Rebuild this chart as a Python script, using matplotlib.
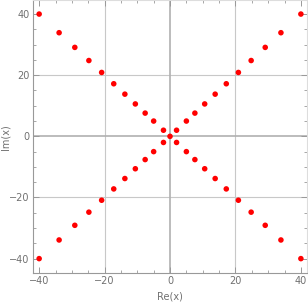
import numpy as np
import matplotlib
matplotlib.use("Agg")
import matplotlib.pyplot as plt
from matplotlib.ticker import MultipleLocator

# magnitudes (points lie on the two diagonals)
mags = [2.0, 5.0, 7.6, 10.6, 13.8, 17.2, 20.9, 24.8, 29.1, 33.9, 40.0]
signs_re = [1, 1, -1, -1]
signs_im = [1, -1, 1, -1]

re_vals = [0.0]
im_vals = [0.0]
for sr, si in zip(signs_re, signs_im):
    for m in mags:
        re_vals.append(sr * m)
        im_vals.append(si * m)

grid_col = '#c8c8c8'
axis_col = '#999999'
text_col = '#707070'

fig = plt.figure(figsize=(3.08, 3.04), dpi=100)
ax = fig.add_axes([0.108, 0.102, 0.888, 0.897])

ax.set_xlim(-41.8, 41.8)
ax.set_ylim(-44.7, 44.5)

for v in (-20, 20):
    ax.axvline(v, color=grid_col, lw=0.8, zorder=1)
    ax.axhline(v, color=grid_col, lw=0.8, zorder=1)
ax.axvline(0, color='#b0b0b0', lw=1.2, zorder=1)
ax.axhline(0, color='#b0b0b0', lw=1.2, zorder=1)

ax.scatter(re_vals, im_vals, s=16, color='#ff0000', edgecolors='none', zorder=3)

ax.xaxis.set_major_locator(MultipleLocator(20))
ax.yaxis.set_major_locator(MultipleLocator(20))
ax.xaxis.set_minor_locator(MultipleLocator(5))
ax.yaxis.set_minor_locator(MultipleLocator(5))
ax.tick_params(which='both', direction='in', top=True, right=True,
               color=axis_col, labelcolor=text_col, labelsize=7, pad=2.5)
ax.tick_params(which='major', length=4, width=0.7)
ax.tick_params(which='minor', length=2.2, width=0.6)

for side, sp in ax.spines.items():
    sp.set_color(axis_col)
    sp.set_linewidth(0.8)
ax.spines['top'].set_color('#dddddd')
ax.spines['right'].set_color('#dddddd')

ax.set_xlabel('Re(x)', color=text_col, fontsize=7, va='center')
ax.set_ylabel('Im(x)', color=text_col, fontsize=7, va='center')
ax.xaxis.set_label_coords(0.5, -0.086)
ax.yaxis.set_label_coords(-0.1, 0.5)

fig.savefig('out.png', dpi=100)
